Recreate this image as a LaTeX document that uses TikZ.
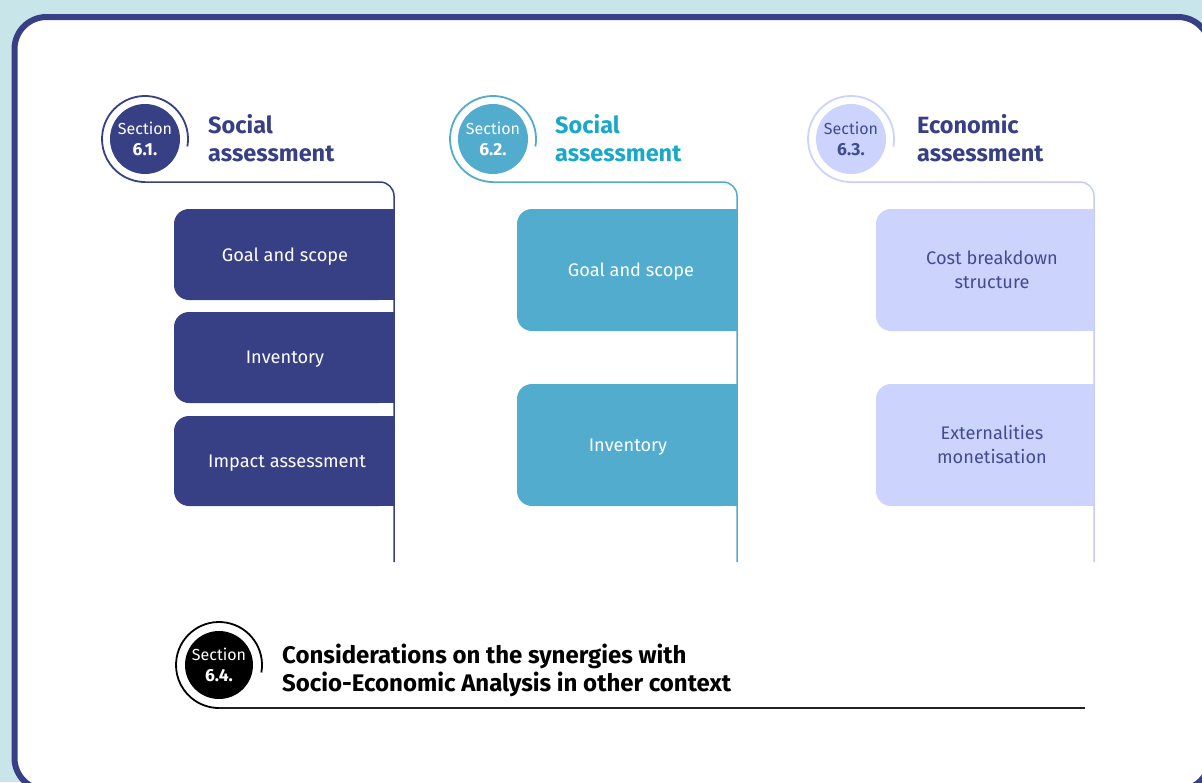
\documentclass[tikz,border=0pt]{standalone}
\usepackage{fontspec}
\setmainfont{Fira Sans}
\usetikzlibrary{calc}
\definecolor{bgc}{HTML}{C8E6EA}
\definecolor{navy}{HTML}{373F85}
\definecolor{tealbox}{HTML}{52ACCE}
\definecolor{tealtxt}{HTML}{1AA8C8}
\definecolor{lav}{HTML}{CCD3FC}
\definecolor{lavline}{HTML}{C5CCF6}
\definecolor{lavtxt}{HTML}{414C8E}
\definecolor{darkline}{HTML}{222222}
\tikzset{
  stagetext/.style={font=\fontsize{18.2}{24}\selectfont, align=center, inner sep=0pt},
  titletext/.style={font=\bfseries\fontsize{23.5}{28}\selectfont, anchor=base west, inner sep=0pt},
  secdisc/.style={circle, minimum size=70pt, inner sep=0pt, align=center, font=\fontsize{16}{20}\selectfont},
  ringline/.style={line width=1.8pt},
  rail/.style={line width=1.5pt, rounded corners=14pt},
  bigtitle/.style={font=\bfseries\fontsize{24}{28}\selectfont, anchor=base west, inner sep=0pt},
  oneline/.style={yshift=-2pt},
}
\newcommand\secnum[1]{\fontsize{17.5}{20}\selectfont\bfseries #1}
% #1 name, #2 x1, #3 top, #4 x2, #5 bottom, #6 fill colour, #7 text style, #8 text, #9 text x
\newcommand\stagebox[9]{%
  \fill[#6, rounded corners=15pt] (#2,-#3) rectangle (#4,-#5);
  \fill[#6] ({(#2+#4)/2},-#3) rectangle (#4,-#5);
  \node[stagetext, #7] (#1) at (#9,{-(#3+#5)/2}) {#8};
}
\begin{document}
\begin{tikzpicture}[x=1pt,y=1pt]
\useasboundingbox (0,0) rectangle (1202,-782);
\clip (0,0) rectangle (1202,-782);
\fill[bgc] (0,0) rectangle (1202,-782);
\draw[navy, line width=6pt, fill=white, rounded corners=32pt] (14.5,-17) rectangle (1210,-790);

% ---------- Column 1 ----------
\node[secdisc, fill=navy, text=white] (c1) at (145,-139) {Section\\[1pt]\secnum{6.1.}};
\draw[navy, ringline] (c1.center) ++(-10:43) arc[start angle=-10, end angle=270, radius=43];
\coordinate (s1) at ($(c1.center)+(0,-43)$);
\coordinate (e1) at (394,-562);
\draw[navy, rail] (s1) -- (e1 |- s1) -- (e1);
\node[titletext, text=navy] (t1a) at (208,-133) {Social};
\node[titletext, text=navy] (t1b) at (208,-161) {assessment};
\stagebox{b11}{174}{209}{394}{300}{navy}{text=white, oneline}{Goal and scope}{285}
\stagebox{b12}{174}{312}{394}{403}{navy}{text=white, oneline}{Inventory}{285}
\stagebox{b13}{174}{416}{394}{506}{navy}{text=white, oneline}{Impact assessment}{287}

% ---------- Column 2 ----------
\node[secdisc, fill=tealbox, text=white] (c2) at (493,-139) {Section\\[1pt]\secnum{6.2.}};
\draw[tealbox, ringline] (c2.center) ++(-10:43) arc[start angle=-10, end angle=270, radius=43];
\coordinate (s2) at ($(c2.center)+(0,-43)$);
\coordinate (e2) at (737,-562);
\draw[tealbox, rail] (s2) -- (e2 |- s2) -- (e2);
\node[titletext, text=tealtxt] (t2a) at (555,-133) {Social};
\node[titletext, text=tealtxt] (t2b) at (555,-161) {assessment};
\stagebox{b21}{517}{209}{737}{331}{tealbox}{text=white, oneline}{Goal and scope}{631}
\stagebox{b22}{517}{384}{737}{506}{tealbox}{text=white, oneline}{Inventory}{628}

% ---------- Column 3 ----------
\node[secdisc, fill=lav, text=lavtxt] (c3) at (851,-139) {Section\\[1pt]\secnum{6.3.}};
\draw[lav, ringline] (c3.center) ++(-10:43) arc[start angle=-10, end angle=270, radius=43];
\coordinate (s3) at ($(c3.center)+(0,-43)$);
\coordinate (e3) at (1094,-562);
\draw[lavline, rail] (s3) -- (e3 |- s3) -- (e3);
\node[titletext, text=navy] (t3a) at (917,-133) {Economic};
\node[titletext, text=navy] (t3b) at (917,-161) {assessment};
\stagebox{b31}{876}{209}{1094}{331}{lav}{text=lavtxt}{Cost breakdown\\structure}{992}
\stagebox{b32}{876}{384}{1094}{506}{lav}{text=lavtxt}{Externalities\\monetisation}{992}

% ---------- Section 6.4 ----------
\node[secdisc, fill=black, text=white, minimum size=68pt] (c4) at (219,-665) {Section\\[1pt]\secnum{6.4.}};
\draw[black, ringline] (c4.center) ++(-10:43) arc[start angle=-10, end angle=270, radius=43];
\coordinate (s4) at ($(c4.center)+(0,-43)$);
\coordinate (e4) at (1085,-708);
\draw[darkline, line width=1.5pt] (s4) -- (e4);
\node[bigtitle] (t4a) at (282,-663) {Considerations on the synergies with};
\node[bigtitle] (t4b) at (282,-691) {Socio-Economic Analysis in other context};
\end{tikzpicture}
\end{document}
